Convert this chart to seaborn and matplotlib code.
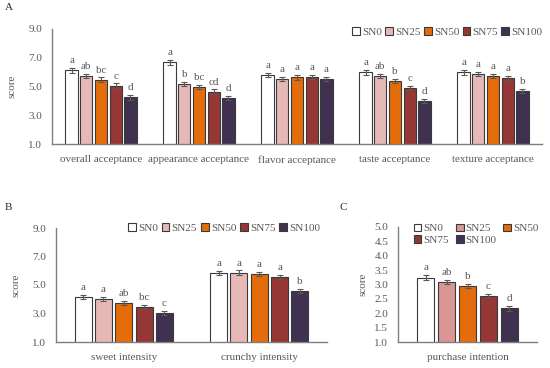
import pandas as pd
import numpy as np
import seaborn as sns
import matplotlib.pyplot as plt
from matplotlib.patches import Patch
from matplotlib.container import BarContainer

sns.set_style('white')
plt.rcParams['font.family'] = ['Liberation Serif', 'DejaVu Serif']
plt.rcParams['font.size'] = 8

# donnees
groups = ['SN0', 'SN25', 'SN50', 'SN75', 'SN100']

a_cats = ['overall acceptance', 'appearance acceptance', 'flavor acceptance',
          'taste acceptance', 'texture acceptance']
a_sn0 = [6.12, 6.67, 5.81, 5.98, 5.98]
a_sn25 = [5.74, 5.17, 5.54, 5.73, 5.89]
a_sn50 = [5.48, 4.95, 5.63, 5.37, 5.75]
a_sn75 = [5.06, 4.65, 5.68, 4.88, 5.57]
a_sn100 = [4.24, 4.21, 5.51, 3.98, 4.67]
a_err = [0.15, 0.15, 0.15, 0.15, 0.15]   # un par groupe
a_letters = [['a', 'a', 'a', 'a', 'a'],
             ['ab', 'b', 'a', 'ab', 'a'],
             ['bc', 'bc', 'a', 'b', 'a'],
             ['c', 'cd', 'a', 'c', 'a'],
             ['d', 'd', 'a', 'd', 'b']]

b_cats = ['sweet intensity', 'crunchy intensity']
b_sn0 = [4.17, 5.83]
b_sn25 = [4.01, 5.87]
b_sn50 = [3.76, 5.77]
b_sn75 = [3.46, 5.56]
b_sn100 = [3.02, 4.59]
b_err = [0.15, 0.15, 0.15, 0.15, 0.15]
b_letters = [['a', 'a'], ['a', 'a'], ['ab', 'a'], ['bc', 'a'], ['c', 'b']]

c_cats = ['purchase intention']
c_vals = [3.24, 3.09, 2.95, 2.60, 2.17]
c_err = [0.08, 0.08, 0.08, 0.08, 0.08]
c_letters = ['a', 'ab', 'b', 'c', 'd']

colors_ab = ['#FFFFFF', '#E6B9B8', '#E46C0A', '#953735', '#403151']
colors_c = ['#FFFFFF', '#D99694', '#E46C0A', '#953735', '#403151']

gray = '#595959'


def make_df(cats, series):
    rows = []
    for g, vals in zip(groups, series):
        for c, v in zip(cats, vals):
            rows.append({'cat': c, 'group': g, 'score': v})
    return pd.DataFrame(rows)


df_a = make_df(a_cats, [a_sn0, a_sn25, a_sn50, a_sn75, a_sn100])
df_b = make_df(b_cats, [b_sn0, b_sn25, b_sn50, b_sn75, b_sn100])
df_c = make_df(c_cats, [[v] for v in c_vals])


def draw(ax, df, palette, errs, letters, ylim, yticks):
    sns.barplot(data=df, x='cat', y='score', hue='group', hue_order=groups,
                palette=palette, saturation=1, width=0.75, gap=0.17,
                edgecolor='#3a3a3a', linewidth=0.8, legend=False, ax=ax)
    bars = [c for c in ax.containers if isinstance(c, BarContainer)]
    for i, cont in enumerate(bars):
        xs = [p.get_x() + p.get_width() / 2 for p in cont.patches]
        ys = [p.get_height() for p in cont.patches]
        e = errs[i]
        ax.errorbar(xs, ys, yerr=e, fmt='none', ecolor=gray,
                    elinewidth=0.8, capsize=2, capthick=0.8)
        for x, y, t in zip(xs, ys, letters[i]):
            ax.annotate(t, (x, y + e), xytext=(0, 3.5), textcoords='offset points',
                        ha='center', va='baseline', color=gray, fontsize=8)
    ax.set_xlim(-0.5, df['cat'].nunique() - 0.5)
    ax.set_ylim(*ylim)
    ax.set_yticks(yticks)
    ax.set_yticklabels(['%.1f' % v for v in yticks])
    ax.set_xlabel('')
    ax.set_ylabel('score', color=gray, fontsize=8)
    ax.tick_params(axis='both', length=0, colors=gray, labelsize=8)
    ax.tick_params(axis='x', pad=8)
    ax.tick_params(axis='y', pad=7)
    for s in ['top', 'right']:
        ax.spines[s].set_visible(False)
    for s in ['left', 'bottom']:
        ax.spines[s].set_color('#7f7f7f')
        ax.spines[s].set_linewidth(1)


fig = plt.figure(figsize=(5.5, 3.68), dpi=100)

ax_a = fig.add_axes([52 / 550, 1 - 144 / 368, 490 / 550, 115 / 368])
draw(ax_a, df_a, colors_ab, a_err, a_letters, (1, 9), [1, 3, 5, 7, 9])
ax_a.yaxis.set_label_coords(-0.072, 0.5)

ax_b = fig.add_axes([56 / 550, 1 - 342 / 368, 271 / 550, 114 / 368])
draw(ax_b, df_b, colors_ab, b_err, b_letters, (1, 9), [1, 3, 5, 7, 9])
ax_b.yaxis.set_label_coords(-0.13, 0.5)

ax_c = fig.add_axes([398 / 550, 1 - 342 / 368, 139 / 550, 115 / 368])
draw(ax_c, df_c, colors_c, c_err, [[l] for l in c_letters], (1, 5),
     [1, 1.5, 2, 2.5, 3, 3.5, 4, 4.5, 5])
ax_c.yaxis.set_label_coords(-0.22, 0.5)

# legendes
def handles(cols):
    return [Patch(facecolor=c, edgecolor='#3a3a3a', linewidth=0.8) for c in cols]

leg_kw = dict(frameon=False, handlelength=0.7, handleheight=0.7,
              handletextpad=0.2, borderpad=0, labelcolor=gray, fontsize=8)
ax_a.legend(handles(colors_ab), groups, ncol=5, loc='center right',
            bbox_to_anchor=(548 / 550, 1 - 32 / 368), bbox_transform=fig.transFigure,
            columnspacing=0.3, **leg_kw)
ax_b.legend(handles(colors_ab), groups, ncol=5, loc='center right',
            bbox_to_anchor=(326 / 550, 1 - 228 / 368), bbox_transform=fig.transFigure,
            columnspacing=0.35, **leg_kw)
# 2 lignes : SN0 SN25 SN50 / SN75 SN100 (ordre par colonnes)
order_c = [0, 3, 1, 4, 2]
h_c = handles(colors_c)
ax_c.legend([h_c[k] for k in order_c], [groups[k] for k in order_c], ncol=3,
            loc='upper left', bbox_to_anchor=(408 / 550, 1 - 218 / 368),
            bbox_transform=fig.transFigure, columnspacing=0.6, labelspacing=0.15,
            **leg_kw)

fig.text(5 / 550, 1 - 8 / 368, 'A', fontsize=8, va='center')
fig.text(5 / 550, 1 - 207 / 368, 'B', fontsize=8, va='center')
fig.text(340 / 550, 1 - 207 / 368, 'C', fontsize=8, va='center')

plt.savefig('out.png', dpi=100)
